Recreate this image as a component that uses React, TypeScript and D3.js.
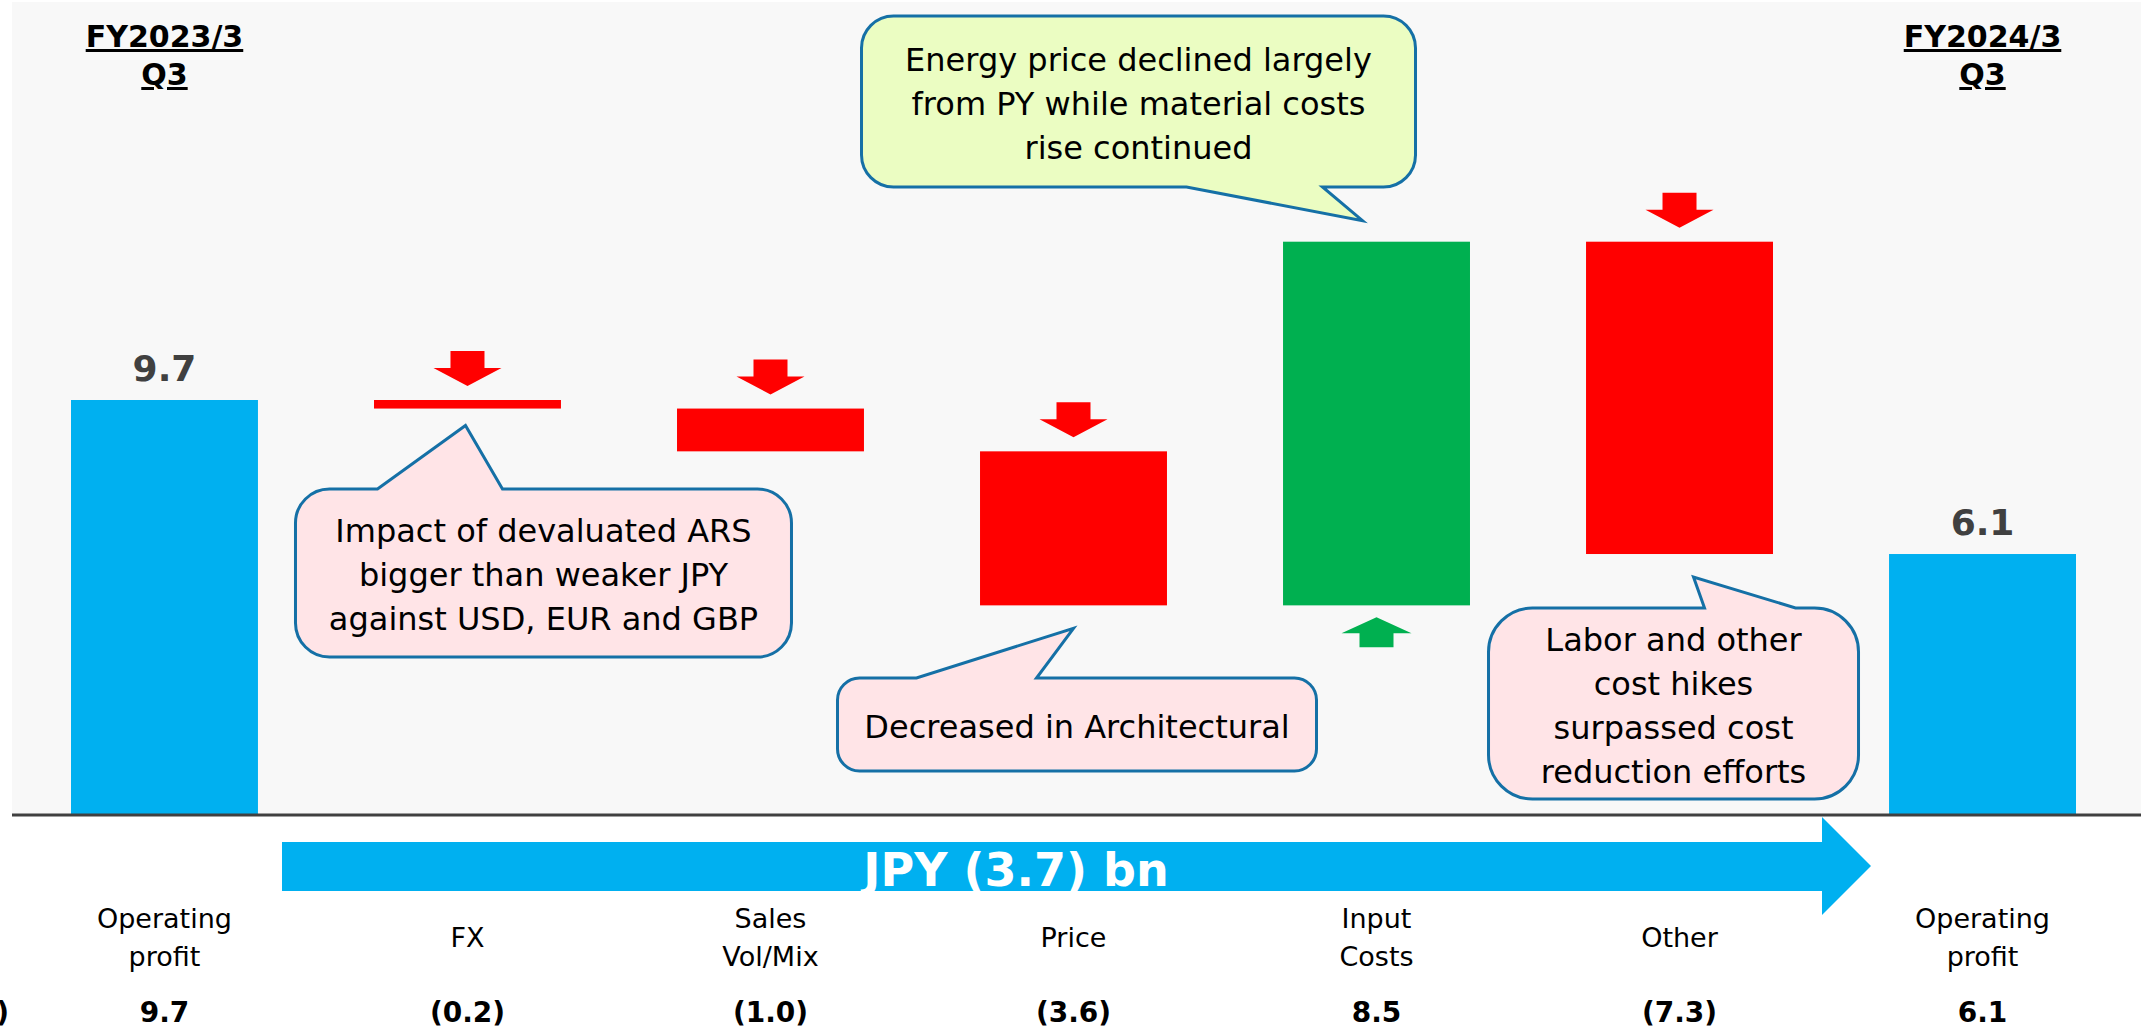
import React from 'react';
import * as d3 from 'd3';

// JPY bn, Q3 operating profit bridge
const categories = ['op23', 'fx', 'vol', 'price', 'input', 'other', 'op24'];
const catLabels = [
  ['Operating', 'profit'],
  ['FX'],
  ['Sales', 'Vol/Mix'],
  ['Price'],
  ['Input', 'Costs'],
  ['Other'],
  ['Operating', 'profit'],
];
const startValue = 9.7;
const deltas = [-0.2, -1.0, -3.6, 8.5, -7.3];
const endValue = 6.1;
const periodTitles = [['FY2023/3', 'Q3'], ['FY2024/3', 'Q3']];
const totalChangeLabel = 'JPY (3.7) bn';

const notes = [
  { cat: 'fx', lines: ['Impact of devaluated ARS', 'bigger than weaker JPY', 'against USD, EUR and GBP'] },
  { cat: 'price', lines: ['Decreased in Architectural'] },
  { cat: 'input', lines: ['Energy price declined largely', 'from PY while material costs', 'rise continued'] },
  { cat: 'other', lines: ['Labor and other', 'cost hikes', 'surpassed cost', 'reduction efforts'] },
];

const W = 2141;
const H = 1031;
const BLUE = '#00b0f0';
const RED = '#ff0000';
const GREEN = '#00b050';
const FONT = '"DejaVu Sans", Verdana, sans-serif';

const fmt = (v: number) => (v < 0 ? `(${Math.abs(v).toFixed(1)})` : v.toFixed(1));

// callout layout: offsets from the band centre of its category
const noteLayout: Record<string, any> = {
  fx: { x0: -172, x1: 324, y0: 489, y1: 657, r: 34, side: 'top', a: -90, b: 35, tipDx: -2, tipGap: 17, fill: '#ffe4e7' },
  price: { x0: -236, x1: 243, y0: 678, y1: 771, r: 22, side: 'top', a: -157, b: -37, tipDx: 0, tipGap: 23, fill: '#ffe4e7' },
  input: { x0: -515, x1: 39, y0: 16, y1: 187, r: 32, side: 'bottom', a: -190, b: -54, tipDx: -14, tipGap: 21, fill: '#ebfdc2' },
  other: { x0: -191, x1: 179, y0: 608, y1: 799, r: 44, side: 'top', a: 25, b: 116, tipDx: 14, tipGap: 23, fill: '#ffe4e7' },
};

function calloutPath(x0: number, y0: number, x1: number, y1: number, r: number, side: string, a: number, b: number, tx: number, ty: number) {
  let p = `M${x0 + r},${y0}`;
  if (side === 'top') p += `L${a},${y0}L${tx},${ty}L${b},${y0}`;
  p += `L${x1 - r},${y0}A${r},${r} 0 0 1 ${x1},${y0 + r}L${x1},${y1 - r}A${r},${r} 0 0 1 ${x1 - r},${y1}`;
  if (side === 'bottom') p += `L${b},${y1}L${tx},${ty}L${a},${y1}`;
  p += `L${x0 + r},${y1}A${r},${r} 0 0 1 ${x0},${y1 - r}L${x0},${y0 + r}A${r},${r} 0 0 1 ${x0 + r},${y0}Z`;
  return p;
}

export default function App() {
  const x = d3.scaleBand<string>().domain(categories).range([71, 2076]).paddingInner(0.383).paddingOuter(0);
  const y = d3.scaleLinear().domain([0, startValue]).range([815, 400]);
  const bw = x.bandwidth();
  const cx = (c: string) => (x(c) as number) + bw / 2;

  // waterfall segments
  const bars: { cat: string; lo: number; hi: number; kind: string; value: number }[] = [];
  bars.push({ cat: categories[0], lo: 0, hi: startValue, kind: 'total', value: startValue });
  let run = startValue;
  deltas.forEach((d, i) => {
    const next = run + d;
    bars.push({ cat: categories[i + 1], lo: Math.min(run, next), hi: Math.max(run, next), kind: d < 0 ? 'neg' : 'pos', value: d });
    run = next;
  });
  bars.push({ cat: categories[6], lo: 0, hi: endValue, kind: 'total', value: endValue });
  const barOf = (c: string) => bars.find((b) => b.cat === c)!;

  const arrowDown = (c: string, top: number) => {
    const m = cx(c);
    return `M${m - 17},${top - 49}L${m + 17},${top - 49}L${m + 17},${top - 32}L${m + 34},${top - 32}L${m},${top - 14}L${m - 34},${top - 32}L${m - 17},${top - 32}Z`;
  };
  const arrowUp = (c: string, bottom: number) => {
    const m = cx(c);
    return `M${m},${bottom + 12}L${m + 35},${bottom + 28}L${m + 17},${bottom + 28}L${m + 17},${bottom + 42}L${m - 17},${bottom + 42}L${m - 17},${bottom + 28}L${m - 35},${bottom + 28}Z`;
  };

  return (
    <svg width={W} height={H} style={{ position: 'absolute', left: 0, top: 0, display: 'block' }} fontFamily={FONT}>
      <rect x={0} y={0} width={W} height={H} fill="#ffffff" />
      <rect x={12} y={2} width={W - 12} height={y(0) - 2} fill="#f8f8f8" />

      {/* period titles */}
      {[categories[0], categories[6]].map((c, i) => (
        <text key={c} x={cx(c)} textAnchor="middle" fontSize={30} fontWeight="bold" textDecoration="underline" fill="#000">
          <tspan x={cx(c)} y={47}>{periodTitles[i][0]}</tspan>
          <tspan x={cx(c)} y={85}>{periodTitles[i][1]}</tspan>
        </text>
      ))}

      {/* bars */}
      {bars.map((b) => (
        <rect
          key={b.cat}
          x={x(b.cat)}
          width={bw}
          y={y(b.hi)}
          height={y(b.lo) - y(b.hi)}
          fill={b.kind === 'total' ? BLUE : b.kind === 'neg' ? RED : GREEN}
        />
      ))}

      {/* totals above bars */}
      {bars.filter((b) => b.kind === 'total').map((b) => (
        <text key={b.cat} x={cx(b.cat)} y={y(b.hi) - 19} textAnchor="middle" fontSize={36} fontWeight="bold" fill="#404040">
          {b.value.toFixed(1)}
        </text>
      ))}

      {/* direction arrows */}
      {bars.filter((b) => b.kind !== 'total').map((b) =>
        b.kind === 'neg' ? (
          <path key={b.cat} d={arrowDown(b.cat, y(b.hi))} fill={RED} />
        ) : (
          <path key={b.cat} d={arrowUp(b.cat, y(b.lo))} fill={GREEN} />
        )
      )}

      {/* callouts */}
      {notes.map((n) => {
        const L = noteLayout[n.cat];
        const m = cx(n.cat);
        const b = barOf(n.cat);
        const ty = L.side === 'top' ? y(b.lo) + L.tipGap : y(b.hi) - L.tipGap;
        const d = calloutPath(m + L.x0, L.y0, m + L.x1, L.y1, L.r, L.side, m + L.a, m + L.b, m + L.tipDx, ty);
        const tcx = m + (L.x0 + L.x1) / 2;
        const first = (L.y0 + L.y1) / 2 - ((n.lines.length - 1) * 44) / 2 + 13;
        return (
          <g key={n.cat}>
            <path d={d} fill={L.fill} stroke="#1570a6" strokeWidth={3} strokeLinejoin="miter" />
            <text textAnchor="middle" fontSize={32} fill="#000">
              {n.lines.map((t, i) => (
                <tspan key={i} x={tcx} y={first + i * 44}>{t}</tspan>
              ))}
            </text>
          </g>
        );
      })}

      {/* baseline */}
      <line x1={12} x2={W} y1={y(0)} y2={y(0)} stroke="#404040" strokeWidth={3} />

      {/* total change arrow */}
      <path d="M282,842L1822,842L1822,817L1871,866L1822,915L1822,891L282,891Z" fill={BLUE} />
      <text x={1016} y={886} textAnchor="middle" fontSize={46} fontWeight="bold" fill="#fff">{totalChangeLabel}</text>

      {/* category labels */}
      {categories.map((c, i) => {
        const lines = catLabels[i];
        return (
          <text key={c} textAnchor="middle" fontSize={27} fill="#000">
            {lines.map((t, j) => (
              <tspan key={j} x={cx(c)} y={lines.length === 1 ? 947 : 928 + j * 38}>{t}</tspan>
            ))}
          </text>
        );
      })}

      {/* value row */}
      <text x={9} y={1022} textAnchor="end" fontSize={28} fontWeight="bold" fill="#000">(JPY bn)</text>
      {bars.map((b) => (
        <text key={b.cat} x={cx(b.cat)} y={1022} textAnchor="middle" fontSize={28} fontWeight="bold" fill="#000">
          {fmt(b.value)}
        </text>
      ))}
    </svg>
  );
}
